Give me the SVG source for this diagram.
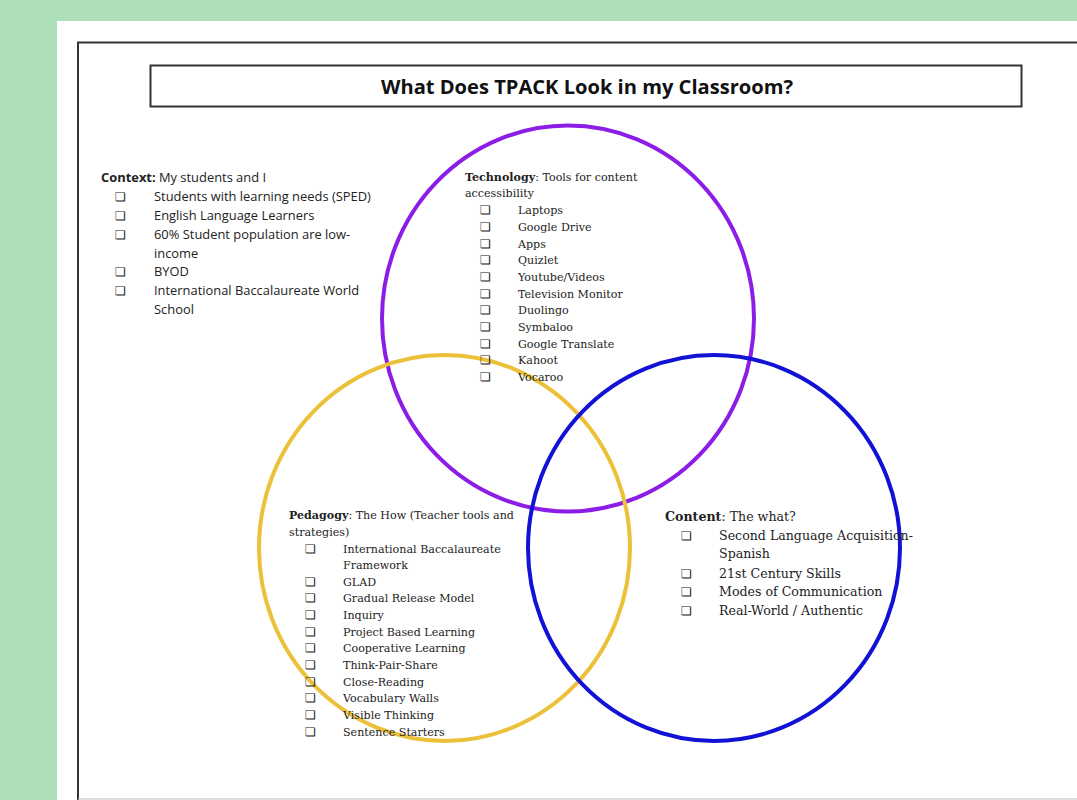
<svg xmlns="http://www.w3.org/2000/svg" width="1077" height="800" viewBox="0 0 1077 800">
<style>
.sans{font-family:"Open Sans","Noto Sans",sans-serif;font-size:12.9px;fill:#222}
.serif{font-family:"DejaVu Serif","Liberation Serif",serif;font-size:11.1px;fill:#222}
.serif2{font-family:"DejaVu Serif","Liberation Serif",serif;font-size:12.6px;fill:#222}
.cb{font-family:"DejaVu Sans",sans-serif;font-size:12px;font-weight:bold;fill:#222}
.ring{fill:none;stroke-width:4}
</style>
<rect x="0" y="0" width="1077" height="800" fill="#ade0b9"/>
<rect x="57" y="21" width="1020" height="779" fill="#ffffff"/>
<path d="M78 800 V42.5 H1077" fill="none" stroke="#333" stroke-width="2"/>
<line x1="78" y1="799" x2="1077" y2="799" stroke="#bbb" stroke-width="1"/>
<g id="title">
<rect x="150.5" y="65.5" width="871" height="41" fill="#fff" stroke="#333" stroke-width="2"/>
<text x="587" y="94" text-anchor="middle" font-family="Open Sans, Noto Sans, sans-serif" font-weight="bold" font-size="16" fill="#111" textLength="412" lengthAdjust="spacingAndGlyphs" style="font-size:19.5px">What Does TPACK Look in my Classroom?</text>
</g>
<g id="circles">
<ellipse id="technology-circle" cx="568" cy="318.5" rx="186" ry="193" class="ring" stroke="#8b1de6"/>
<ellipse id="pedagogy-circle" cx="444.5" cy="548" rx="185.5" ry="193" class="ring" stroke="#ecc13a"/>
<ellipse id="content-circle" cx="714" cy="548" rx="186" ry="193" class="ring" stroke="#1212d6"/>
</g>
<g id="context">
<text class="sans" x="101" y="182"><tspan font-weight="bold">Context:</tspan> My students and I</text>
<g class="cb">
<text x="115" y="201">❏</text><text x="115" y="220">❏</text><text x="115" y="239">❏</text><text x="115" y="276">❏</text><text x="115" y="295">❏</text>
</g>
<text class="sans" x="154" y="201">Students with learning needs (SPED)</text>
<text class="sans" x="154" y="220">English Language Learners</text>
<text class="sans" x="154" y="239">60% Student population are low-</text>
<text class="sans" x="154" y="258">income</text>
<text class="sans" x="154" y="276">BYOD</text>
<text class="sans" x="154" y="295">International Baccalaureate World</text>
<text class="sans" x="154" y="314">School</text>
</g>
<g id="technology">
<text class="serif" x="465" y="181"><tspan font-weight="bold">Technology</tspan>: Tools for content</text>
<text class="serif" x="465" y="197">accessibility</text>
<g class="cb">
<text x="480" y="214">❏</text><text x="480" y="231">❏</text><text x="480" y="248">❏</text><text x="480" y="264">❏</text><text x="480" y="281">❏</text><text x="480" y="298">❏</text><text x="480" y="314">❏</text><text x="480" y="331">❏</text><text x="480" y="348">❏</text><text x="480" y="364">❏</text><text x="480" y="381">❏</text>
</g>
<text class="serif" x="518" y="214">Laptops</text>
<text class="serif" x="518" y="231">Google Drive</text>
<text class="serif" x="518" y="248">Apps</text>
<text class="serif" x="518" y="264">Quizlet</text>
<text class="serif" x="518" y="281">Youtube/Videos</text>
<text class="serif" x="518" y="298">Television Monitor</text>
<text class="serif" x="518" y="314">Duolingo</text>
<text class="serif" x="518" y="331">Symbaloo</text>
<text class="serif" x="518" y="348">Google Translate</text>
<text class="serif" x="518" y="364">Kahoot</text>
<text class="serif" x="518" y="381">Vocaroo</text>
</g>
<g id="pedagogy">
<text class="serif" x="289" y="519"><tspan font-weight="bold">Pedagogy</tspan>: The How (Teacher tools and</text>
<text class="serif" x="289" y="536">strategies)</text>
<g class="cb">
<text x="305" y="553">❏</text><text x="305" y="586">❏</text><text x="305" y="602">❏</text><text x="305" y="619">❏</text><text x="305" y="636">❏</text><text x="305" y="652">❏</text><text x="305" y="669">❏</text><text x="305" y="686">❏</text><text x="305" y="702">❏</text><text x="305" y="719">❏</text><text x="305" y="736">❏</text>
</g>
<text class="serif" x="343" y="553">International Baccalaureate</text>
<text class="serif" x="343" y="569">Framework</text>
<text class="serif" x="343" y="586">GLAD</text>
<text class="serif" x="343" y="602">Gradual Release Model</text>
<text class="serif" x="343" y="619">Inquiry</text>
<text class="serif" x="343" y="636">Project Based Learning</text>
<text class="serif" x="343" y="652">Cooperative Learning</text>
<text class="serif" x="343" y="669">Think-Pair-Share</text>
<text class="serif" x="343" y="686">Close-Reading</text>
<text class="serif" x="343" y="702">Vocabulary Walls</text>
<text class="serif" x="343" y="719">Visible Thinking</text>
<text class="serif" x="343" y="736">Sentence Starters</text>
</g>
<g id="content">
<text class="serif2" x="665" y="521"><tspan font-weight="bold">Content</tspan>: The what?</text>
<g class="cb">
<text x="681" y="540">❏</text><text x="681" y="578">❏</text><text x="681" y="596">❏</text><text x="681" y="615">❏</text>
</g>
<text class="serif2" x="719" y="540">Second Language Acquisition-</text>
<text class="serif2" x="719" y="558">Spanish</text>
<text class="serif2" x="719" y="578">21st Century Skills</text>
<text class="serif2" x="719" y="596">Modes of Communication</text>
<text class="serif2" x="719" y="615">Real-World / Authentic</text>
</g>
</svg>
